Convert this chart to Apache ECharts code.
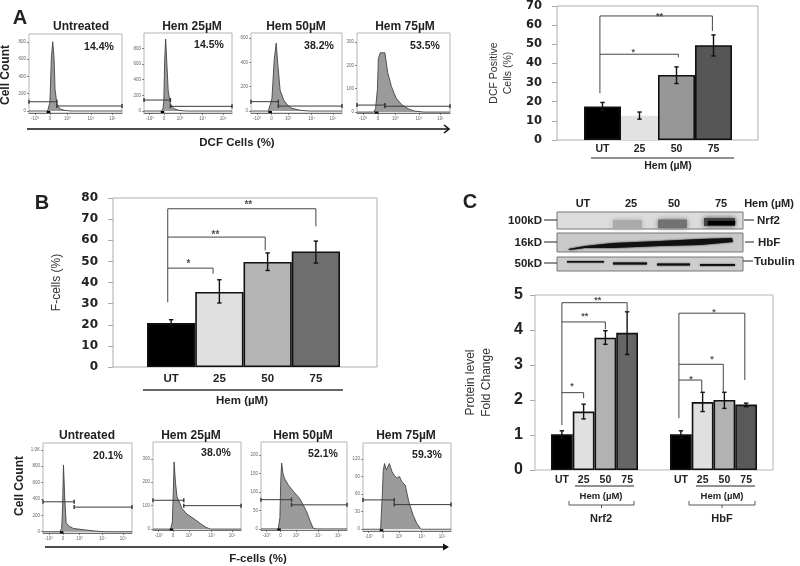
<!DOCTYPE html>
<html><head><meta charset="utf-8">
<style>html,body{margin:0;padding:0;background:#fff}#main{width:800px;height:566px;filter:blur(0.45px)}</style>
<script src="https://cdn.jsdelivr.net/npm/echarts@6/dist/echarts.min.js"></script>
</head><body><div id="main"></div>
<script>
// ---------- bar chart data ----------
const doseCategories = ['UT','25','50','75'];
const dcfValues = [17.5,12.7,34,49.5];
const dcfLow = [15.5,10.9,29.5,43.9];
const dcfHigh = [19.6,14.6,38.2,54.9];
const fcellValues = [20.8,35.5,49.7,54.7];
const fcellLow = [19.2,30.3,45.7,49.2];
const fcellHigh = [22.4,41.3,54,59.6];
const nrf2Values = [1.02,1.67,3.78,3.92];
const nrf2Low = [0.92,1.46,3.59,3.30];
const nrf2High = [1.12,1.88,3.98,4.52];
const hbfValues = [1.02,1.94,2.0,1.87];
const hbfLow = [0.92,1.67,1.76,1.81];
const hbfHigh = [1.12,2.22,2.22,1.91];
// significance brackets, in [category position, value]
const dcfBrackets = [[[-0.07,24.5],[-0.07,64.8],[2.97,64.8],[2.97,57]],[[-0.07,44.8],[2.05,44.8],[2.05,43.2]]];
const dcfStars = [[1.54,65.6,'**'],[0.83,46.9,'*']];
const fcellBrackets = [[[-0.07,30.6],[-0.07,74.9],[3,74.9],[3,66.6]],[[-0.07,61.5],[1.95,61.5],[1.95,55.2]],[[-0.07,46.8],[0.87,46.8],[0.87,44.2]]];
const fcellStars = [[1.6,77.7,'**'],[0.92,63.5,'**'],[0.36,49.8,'*']];
const nrf2Brackets = [[[0,1.28],[0,4.78],[3,4.78],[3,4.52]],[[0,4.23],[2,4.23],[2,4.02]],[[0,2.21],[1,2.21],[1,2.05]]];
const nrf2Stars = [[1.65,4.89,'**'],[1.05,4.43,'**'],[0.46,2.43,'*']];
const hbfBrackets = [[[-0.09,1.48],[-0.09,4.48],[2.94,4.48],[2.94,2.57]],[[-0.09,3.02],[1.95,3.02],[1.95,2.22]],[[-0.09,2.57],[0.96,2.57],[0.96,2.22]]];
const hbfStars = [[1.52,4.55,'*'],[1.43,3.22,'*'],[0.46,2.64,'*']];
// ---------- flow histogram data: [display position %, count] ----------
const histXTicks = [6.5,22.6,41,66.7,90];
const histXLabels = ['-10³','0','10³','10⁴','10⁵'];
const dcfUT = [[0,0],[20,0],[21.5,20],[22.5,100],[24,600],[25.5,800],[27,600],[28,250],[30,80],[33,25],[38,8],[45,0],[100,0]];
const dcf25 = [[0,0],[20,0],[21.5,30],[22.5,120],[23.5,650],[24.6,917],[26,600],[27.5,260],[30,90],[34,30],[40,8],[48,0],[100,0]];
const dcf50 = [[0,0],[19,0],[21,15],[23,100],[25.5,420],[27.7,557],[29.5,380],[32,170],[36,90],[40,50],[45,22],[55,5],[65,0],[100,0]];
const dcf75 = [[0,0],[18,0],[20,15],[22,100],[23,230],[25,254],[30,254],[33,170],[37,110],[42,60],[48,32],[55,14],[62,4],[72,0],[100,0]];
const fcUT = [[0,0],[19,0],[21,40],[22,300],[23,815],[24.5,400],[26,110],[29,70],[34,40],[45,25],[55,12],[64,3],[72,0],[100,0]];
const fc25 = [[0,0],[20,0],[22,30],[23,150],[24,287],[25.5,200],[27.3,138],[33,88],[38.6,64],[45,48],[53.8,24],[60,8],[65,0],[100,0]];
const fc50 = [[0,0],[20,0],[22,30],[23,130],[24,178],[25.5,150],[27.8,134],[32,118],[37.5,102],[45,82],[53,47],[57,22],[60.6,2],[65,0],[100,0]];
const fc75 = [[0,0],[20,0],[22,60],[23,100],[24.5,112],[26.4,101],[28,104],[30,112],[33,98],[35.5,92],[38.5,87],[41.5,90],[44,81],[48,75],[52,47],[57,24],[61,10],[66,0],[100,0]];
const dcfUTTicks = [0,200,400,600,800];
const dcf50Ticks = [0,200,400,600];
const dcf75Ticks = [0,100,200,300];
const fcUTTicks = [0,200,400,600,800,1000];
const fc25Ticks = [0,100,200,300];
const fc50Ticks = [0,50,100,150,200];
const fc75Ticks = [0,30,60,90,120];
const histTitlesA = ['Untreated','Hem 25µM','Hem 50µM','Hem 75µM'];
const histPercentA = ['14.4%','14.5%','38.2%','53.5%'];
const histTitlesB = ['Untreated','Hem 25µM','Hem 50µM','Hem 75µM'];
const histPercentB = ['20.1%','38.0%','52.1%','59.3%'];

// ---------- builders ----------
const FONT = '"Liberation Sans", Arial, sans-serif';
const grid=[], xAxis=[], yAxis=[], series=[], gfx=[];
const txt=(x,y,t,o={})=>gfx.push({type:'text',x,y,rotation:o.rot||0,z:50,silent:true,style:{text:t,fill:o.c||'#222',font:`${o.w||'bold'} ${o.s||11}px ${o.f||FONT}`,align:o.a||'center',verticalAlign:'middle',lineHeight:o.lh}});
const ln=(x1,y1,x2,y2,w=1,c='#222')=>gfx.push({type:'line',z:50,silent:true,shape:{x1,y1,x2,y2},style:{stroke:c,lineWidth:w}});
const poly=(pts,c='#333',w=0.9)=>gfx.push({type:'polyline',z:50,silent:true,shape:{points:pts},style:{stroke:c,lineWidth:w,fill:null}});

function barPanel(o){
  if(o.frame){ const f=o.frame; grid.push({show:true,left:f[0],top:f[1],width:f[2]-f[0],height:f[3]-f[1],borderColor:o.frameColor||'#adadad',borderWidth:1,backgroundColor:'transparent'}); }
  const g=grid.length; grid.push({left:o.left,top:o.top,width:o.width,height:o.height});
  const a=xAxis.length;
  xAxis.push({gridIndex:g,type:'category',data:doseCategories,axisLine:{show:false,onZero:false},axisTick:{show:false},
    axisLabel:{color:'#222',fontFamily:FONT,fontWeight:'bold',fontSize:o.catSize,margin:o.catMargin,interval:0}});
  xAxis.push({gridIndex:g,type:'value',min:-0.5,max:3.5,show:false});
  const y=yAxis.length;
  yAxis.push({gridIndex:g,type:'value',min:0,max:o.max,interval:o.step,offset:o.offset,show:true,splitLine:{show:false},
    axisLine:{show:false,onZero:false},axisTick:{show:o.showY,length:5,lineStyle:{color:'#aaa'}},
    axisLabel:{show:o.showY,color:'#222',fontFamily:o.yFont,fontWeight:'bold',fontSize:o.ySize,margin:o.yMargin},
    name:o.yName,nameLocation:'middle',nameGap:o.nameGap,nameRotate:90,
    nameTextStyle:{color:'#333',fontFamily:FONT,fontSize:o.nameSize,lineHeight:o.nameLH,fontWeight:o.nameWeight||'normal'}});
  series.push({type:'bar',xAxisIndex:a,yAxisIndex:y,barWidth:'100%',barGap:0,silent:true,animation:false,
    data:o.values.map((v,i)=>({value:v,itemStyle:{color:o.colors[i],borderColor:o.noBorder&&o.noBorder[i]?o.colors[i]:'#111',borderWidth:1.6}}))});
  series.push({type:'custom',xAxisIndex:a+1,yAxisIndex:y,silent:true,animation:false,z:5,encode:{x:0,y:[1,2]},
    data:o.values.map((v,i)=>[i,o.low[i],o.high[i]]),
    renderItem(p,api){const t=api.coord([api.value(0),api.value(2)]),b=api.coord([api.value(0),api.value(1)]),c=2.2;
      const st={stroke:'#111',lineWidth:1.4,fill:null};
      return {type:'group',children:[
        {type:'line',shape:{x1:t[0],y1:t[1],x2:b[0],y2:b[1]},style:st},
        {type:'line',shape:{x1:t[0]-c,y1:t[1],x2:t[0]+c,y2:t[1]},style:st},
        {type:'line',shape:{x1:b[0]-c,y1:b[1],x2:b[0]+c,y2:b[1]},style:st}]};}});
  o.brackets.forEach(d=>series.push({type:'line',xAxisIndex:a+1,yAxisIndex:y,data:d,symbol:'none',silent:true,animation:false,z:6,lineStyle:{color:'#444',width:1}}));
  series.push({type:'scatter',xAxisIndex:a+1,yAxisIndex:y,data:o.stars,symbolSize:0,silent:true,animation:false,z:7,
    label:{show:true,position:'inside',formatter:p=>p.data[2],color:'#222',fontFamily:FONT,fontWeight:'bold',fontSize:o.starSize||10,offset:[0,2]}});
}

function hist(o){
  const g=grid.length;
  grid.push({show:true,left:o.l,top:o.t,width:o.r-o.l,height:o.b-o.t,borderColor:'#b5b5b5',borderWidth:1,backgroundColor:'transparent'});
  const a=xAxis.length,y=yAxis.length;
  xAxis.push({gridIndex:g,type:'value',min:0,max:100,splitLine:{show:false},axisLine:{show:true,onZero:false,lineStyle:{color:'#555',width:0.8}},
    axisTick:{customValues:histXTicks,length:2,lineStyle:{color:'#555',width:0.7}},
    axisLabel:{customValues:histXTicks,formatter:v=>histXLabels[histXTicks.indexOf(v)]||'',fontSize:4.5,color:'#666',margin:3,fontFamily:FONT}});
  yAxis.push({gridIndex:g,type:'value',min:o.min,max:o.max,splitLine:{show:false},axisLine:{show:false,onZero:false},
    axisTick:{customValues:o.ticks,length:2,lineStyle:{color:'#555',width:0.7}},
    axisLabel:{customValues:o.ticks,formatter:v=>v>=1000?'1.0K':String(v),fontSize:4.5,color:'#666',margin:3,fontFamily:FONT}});
  series.push({type:'line',xAxisIndex:a,yAxisIndex:y,data:o.data,symbol:'none',silent:true,animation:false,
    lineStyle:{color:'#444',width:0.9},areaStyle:{color:'#9b9b9b',opacity:1}});
  const gate=(d)=>series.push({type:'line',xAxisIndex:a,yAxisIndex:y,data:d,symbol:'rect',symbolSize:[1.5,4],silent:true,animation:false,z:6,itemStyle:{color:'#3a3a3a'},lineStyle:{color:'#3a3a3a',width:1}});
  gate([[0,o.g1],[o.gx,o.g1]]); gate([[o.gx,o.g2],[100,o.g2]]);
  series.push({type:'line',xAxisIndex:a,yAxisIndex:y,data:[[19,o.min*0.5],[23,o.min*0.5]],symbol:'none',silent:true,animation:false,z:6,lineStyle:{color:'#000',width:2}});
}

// ---------- panel A ----------
[[29,122,34,113,-23,890,dcfUTTicks,dcfUT,107,30,58],
 [144,232,33,113,-25,995,dcfUTTicks,dcf25,140,30,60],
 [251,342,33,113,-16,640,dcf50Ticks,dcf50,77,30,41],
 [357,450,33,113,-4,339,dcf75Ticks,dcf75,30,30,25]
].forEach(p=>hist({l:p[0],r:p[1],t:p[2],b:p[3],min:p[4],max:p[5],ticks:p[6],data:p[7],g1:p[8],gx:p[9],g2:p[10]}));
[81,192,296,405].forEach((x,i)=>txt(x,27,histTitlesA[i],{s:12}));
[[99,47],[209,45],[319,46],[425,46]].forEach((p,i)=>txt(p[0],p[1],histPercentA[i],{s:10.5}));
txt(6,75,'Cell Count',{rot:Math.PI/2,s:12});
txt(20,18,'A',{s:20,a:'center'});
ln(27,129,448,129,1.6,'#111'); poly([[444,125],[449,129],[444,133]],'#111',1.6);
txt(237,143,'DCF Cells (%)',{s:11.5});

barPanel({frame:[557,6,758,140],left:584,top:6,width:148,height:134,values:dcfValues,low:dcfLow,high:dcfHigh,
  colors:['#000','#e2e2e2','#979797','#565656'],noBorder:[0,1,0,0],max:70,step:10,offset:27,showY:true,
  yFont:'"DejaVu Sans"',ySize:11.5,yMargin:15,catSize:10.5,catMargin:4,yName:'DCF Positive\nCells (%)',nameGap:42,nameSize:10.5,nameLH:14,
  brackets:dcfBrackets,stars:dcfStars,starSize:9});
ln(591,158,734,158,1,'#222'); txt(668,166,'Hem (µM)',{s:10.5});

// ---------- panel B ----------
barPanel({frame:[113,198,377,367],left:147,top:198,width:193,height:169,values:fcellValues,low:fcellLow,high:fcellHigh,
  colors:['#000','#e0e0e0','#b4b4b4','#6e6e6e'],max:80,step:10,offset:34,showY:true,
  yFont:'"DejaVu Sans"',ySize:12,yMargin:15,catSize:11.5,catMargin:6,yName:'F-cells (%)',nameGap:50,nameSize:12,
  brackets:fcellBrackets,stars:fcellStars});
ln(143,390,343,390,1.4,'#333'); txt(242,401,'Hem (µM)',{s:11.5});
txt(42,203,'B',{s:20});

[[43,132,443,533,-16,1083,fcUTTicks,fcUT,365,35,300],
 [153,241,442,530,-4,372,fc25Ticks,fc25,123,35,100],
 [261,347,442,530,-3,235,fc50Ticks,fc50,79,35.5,65],
 [363,451,443,531,-3,147,fc75Ticks,fc75,50,35.5,42]
].forEach(p=>hist({l:p[0],r:p[1],t:p[2],b:p[3],min:p[4],max:p[5],ticks:p[6],data:p[7],g1:p[8],gx:p[9],g2:p[10]}));
[87,191,303,406].forEach((x,i)=>txt(x,436,histTitlesB[i],{s:12}));
[[108,456],[216,453],[323,454],[427,455]].forEach((p,i)=>txt(p[0],p[1],histPercentB[i],{s:10.5}));
txt(20,486,'Cell Count',{rot:Math.PI/2,s:12});
ln(45,547,447,547,1.6,'#111'); gfx.push({type:'polygon',z:50,silent:true,shape:{points:[[443,543.5],[449,547],[443,550.5]]},style:{fill:'#111'}});
txt(258,559,'F-cells (%)',{s:11.5});

// ---------- panel C ----------
txt(470,202,'C',{s:20});
[[583,'UT'],[631,'25'],[674,'50'],[721,'75'],[769,'Hem (µM)']].forEach(p=>txt(p[0],204,p[1],{s:11}));
const blots=[[212,229,'#dcdcdc'],[233,252,'#c9c9c9'],[257,271,'#cdcdcd']];
blots.forEach(b=>gfx.push({type:'rect',z:40,silent:true,shape:{x:557,y:b[0],width:186,height:b[1]-b[0]},style:{fill:b[2],stroke:'#777',lineWidth:1}}));
const soft=(pts,c,bl=2)=>gfx.push({type:'polygon',z:41,silent:true,shape:{points:pts},style:{fill:c,shadowBlur:bl,shadowColor:c}});
const rct=(x1,y1,x2,y2)=>[[x1,y1],[x2,y1],[x2,y2],[x1,y2]];
soft(rct(613,220,642,228),'#ababab',5);soft(rct(658,219.5,687,228),'#727272',5);soft(rct(704,218,735,226),'#444',5);soft(rct(708,221,735,225),'#000',2);
soft([[568,249],[585,246],[613,243],[660,241],[700,239],[732,238],[733,242],[700,245],[660,246],[613,248],[585,248],[570,250]],'#111',2);
soft(rct(567,261,604,262.5),'#111',1.5);soft(rct(613,262.5,647,264.5),'#111',1.5);soft(rct(657,263.5,690,265.5),'#111',1.5);soft(rct(700,264,735,266),'#111',1.5);
[[221,'100kD'],[243,'16kD'],[264,'50kD']].forEach(p=>{txt(542,p[0],p[1],{s:11.5,a:'right'});ln(544,p[0]-1,557,p[0]-1,1,'#222');});
[[221,'Nrf2',757,744,754],[243,'HbF',758,745,754],[262,'Tubulin',754,743,753]].forEach(p=>{txt(p[2],p[0],p[1],{s:11.5,a:'left'});ln(p[3],p[0]-1,p[4],p[0]-1,1,'#222');});

grid.push({show:true,left:535,top:295,width:238,height:175,borderColor:'#b5b5b5',borderWidth:1,backgroundColor:'transparent'});
const cColors=['#000','#e0e0e0','#b2b2b2','#666'];
barPanel({left:551,top:295,width:87,height:175,values:nrf2Values,low:nrf2Low,high:nrf2High,colors:cColors,max:5,step:1,offset:16,showY:true,
  yFont:'"Liberation Sans Narrow","Liberation Sans"',ySize:16,yMargin:12,catSize:10.5,catMargin:5,
  yName:'Protein level\nFold Change',nameGap:40,nameSize:12,nameLH:16,brackets:nrf2Brackets,stars:nrf2Stars,starSize:9});
barPanel({left:670,top:295,width:87,height:175,values:hbfValues,low:hbfLow,high:hbfHigh,colors:['#000','#e0e0e0','#b2b2b2','#595959'],max:5,step:1,offset:0,showY:false,
  yFont:FONT,ySize:10,yMargin:5,catSize:10.5,catMargin:5,yName:'',nameGap:0,nameSize:10,brackets:hbfBrackets,stars:hbfStars,starSize:9});
[[575,634,601,569,634,519,'Nrf2'],[696,755,722,689,755,519,'HbF']].forEach(p=>{
  ln(p[0],486,p[1],486,1,'#222'); txt(p[2],496,'Hem (µM)',{s:9.5});
  poly([[p[3],501],[p[3],505],[p[4],505],[p[4],501]],'#444',0.9); ln((p[3]+p[4])/2,505,(p[3]+p[4])/2,508,0.9,'#444');
  txt((p[3]+p[4])/2+ (p[6]==='Nrf2'?-0.5:0),p[5],p[6],{s:11});
});

const chart=echarts.init(document.getElementById('main'),null,{renderer:'canvas'});
chart.setOption({animation:false,backgroundColor:'#fff',grid,xAxis,yAxis,series,graphic:{elements:gfx}});
</script></body></html>
